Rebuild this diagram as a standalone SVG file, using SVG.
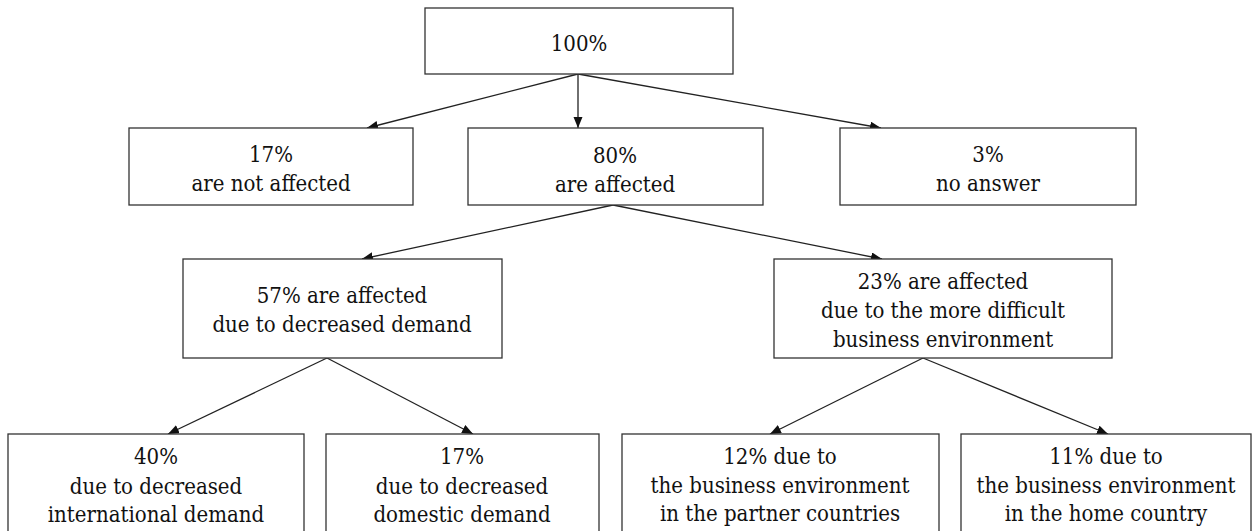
<svg xmlns="http://www.w3.org/2000/svg" width="1253" height="531" viewBox="0 0 1253 531">
<defs>
<style>
.box{fill:#fff;stroke:#333;stroke-width:1.3}
.t{font-family:'DejaVu Serif Condensed','DejaVu Serif','Liberation Serif',serif;font-stretch:condensed;font-size:22px;fill:#111;text-anchor:middle}
.c{stroke:#222;stroke-width:1.3;fill:none;marker-end:url(#ah)}
</style>
<marker id="ah" markerUnits="userSpaceOnUse" markerWidth="12" markerHeight="10" refX="11" refY="4.5" orient="auto">
<path d="M0,0 L11,4.5 L0,9 Z" fill="#111"/>
</marker>
</defs>
<rect width="1253" height="531" fill="#fff"/>
<g id="connectors">
<line class="c" x1="578" y1="74" x2="578" y2="128"/>
<line class="c" x1="578" y1="74" x2="367" y2="128"/>
<line class="c" x1="578" y1="74" x2="881" y2="128"/>
<line class="c" x1="613" y1="205" x2="362" y2="259"/>
<line class="c" x1="613" y1="205" x2="882" y2="259"/>
<line class="c" x1="327" y1="358" x2="168" y2="434"/>
<line class="c" x1="327" y1="358" x2="473" y2="434"/>
<line class="c" x1="923" y1="358" x2="770" y2="434"/>
<line class="c" x1="923" y1="358" x2="1108" y2="434"/>
</g>
<g id="n100">
<rect class="box" x="425" y="8" width="308" height="66"/>
<text class="t" x="579" y="51">100%</text>
</g>
<g id="n17">
<rect class="box" x="129" y="128" width="284" height="77"/>
<text class="t" x="271" y="162">17%</text>
<text class="t" x="271" y="191">are not affected</text>
</g>
<g id="n80">
<rect class="box" x="468" y="128" width="295" height="77"/>
<text class="t" x="615" y="163">80%</text>
<text class="t" x="615" y="192">are affected</text>
</g>
<g id="n3">
<rect class="box" x="840" y="128" width="296" height="77"/>
<text class="t" x="988" y="162">3%</text>
<text class="t" x="988" y="191">no answer</text>
</g>
<g id="n57">
<rect class="box" x="183" y="259" width="319" height="99"/>
<text class="t" x="342" y="303">57% are affected</text>
<text class="t" x="342" y="332">due to decreased demand</text>
</g>
<g id="n23">
<rect class="box" x="774" y="259" width="338" height="99"/>
<text class="t" x="943" y="289">23% are affected</text>
<text class="t" x="943" y="318">due to the more difficult</text>
<text class="t" x="943" y="347">business environment</text>
</g>
<g id="n40">
<rect class="box" x="8" y="434" width="296" height="110"/>
<text class="t" x="156" y="464">40%</text>
<text class="t" x="156" y="494">due to decreased</text>
<text class="t" x="156" y="522">international demand</text>
</g>
<g id="n17b">
<rect class="box" x="326" y="434" width="273" height="110"/>
<text class="t" x="462" y="464">17%</text>
<text class="t" x="462" y="494">due to decreased</text>
<text class="t" x="462" y="522">domestic demand</text>
</g>
<g id="n12">
<rect class="box" x="622" y="434" width="317" height="110"/>
<text class="t" x="780" y="464">12% due to</text>
<text class="t" x="780" y="493">the business environment</text>
<text class="t" x="780" y="521">in the partner countries</text>
</g>
<g id="n11">
<rect class="box" x="961" y="434" width="290" height="110"/>
<text class="t" x="1106" y="464">11% due to</text>
<text class="t" x="1106" y="493">the business environment</text>
<text class="t" x="1106" y="521">in the home country</text>
</g>
</svg>
